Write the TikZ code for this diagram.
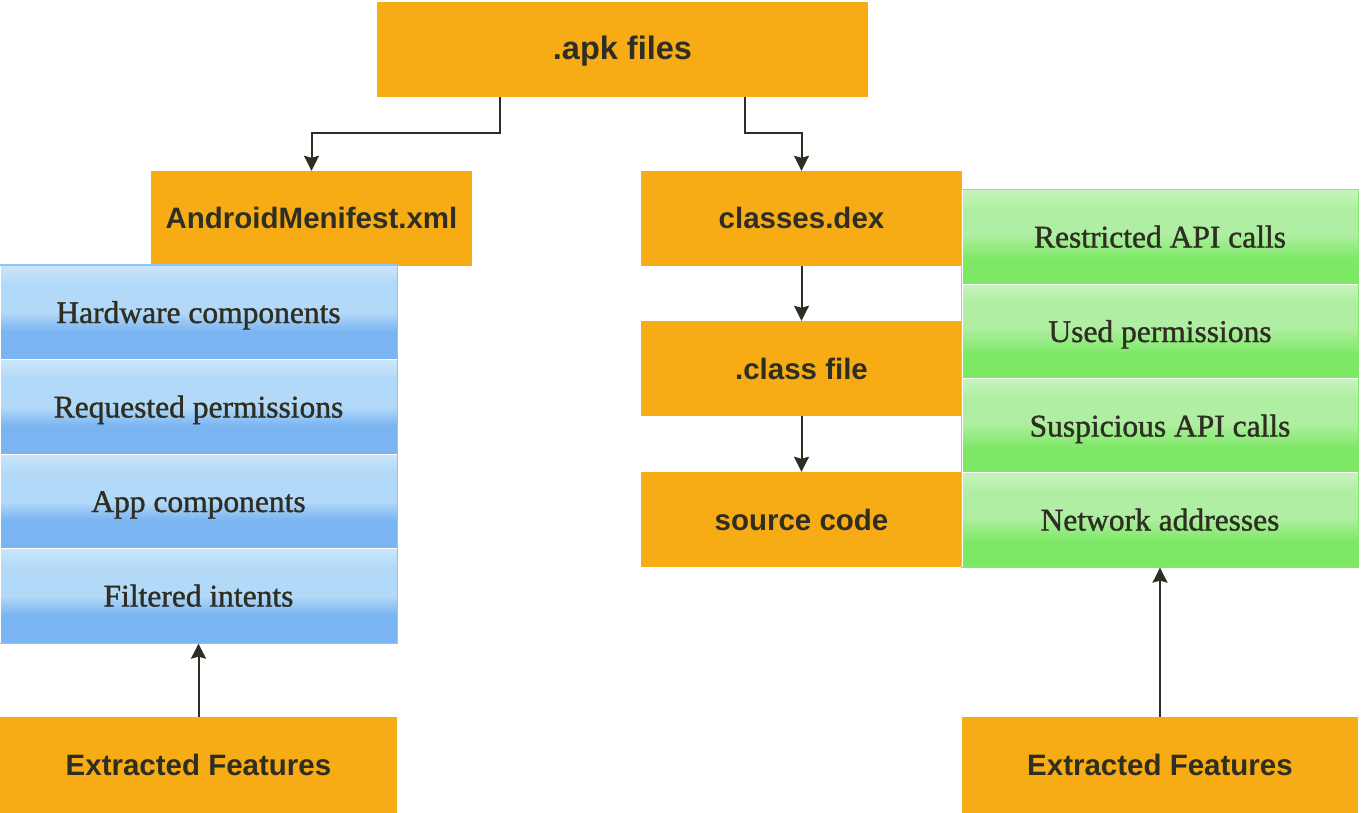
\documentclass[tikz,border=0pt]{standalone}
\usepackage{fontspec}
\setmainfont{Liberation Serif}
\newfontfamily\sansf{Liberation Sans}
\newfontfamily\serifsb[FakeBold=1.2]{Liberation Serif}
\usetikzlibrary{arrows.meta}
\definecolor{orng}{HTML}{F7AC15}
\definecolor{txt}{HTML}{2E2E22}
\definecolor{bB}{HTML}{7AB4F1}
\definecolor{bM}{HTML}{B2D9F8}
\definecolor{bT}{HTML}{CBE6FB}
\definecolor{bEdge}{HTML}{8CC4F5}
\definecolor{gB}{HTML}{7CE864}
\definecolor{gM}{HTML}{B0EFA3}
\definecolor{gT}{HTML}{C6F4BC}
\definecolor{gEdge}{HTML}{86EA70}
\pgfdeclareverticalshading{blueband}{100bp}{color(0bp)=(bB); color(25bp)=(bB); color(40bp)=(bB); color(50bp)=(bM); color(65bp)=(bM); color(75bp)=(bT); color(100bp)=(bT)}
\pgfdeclareverticalshading{greenband}{100bp}{color(0bp)=(gB); color(25bp)=(gB); color(38bp)=(gB); color(52bp)=(gM); color(65bp)=(gM); color(75bp)=(gT); color(100bp)=(gT)}
\tikzset{
  obox/.style={fill=orng, draw=none, minimum height=95pt, inner sep=0pt, text=txt,
    text height=24pt, text depth=3pt,
    font=\sansf\bfseries\fontsize{29.5}{34}\selectfont},
  bband/.style={shading=blueband, draw=white, line width=0.8pt, minimum width=397pt,
    minimum height=94.5pt, inner sep=0pt, text=txt, text height=23pt, text depth=2pt,
    font=\serifsb\fontsize{31.5}{36}\selectfont},
  gband/.style={shading=greenband, draw=white, line width=0.8pt, minimum width=396pt,
    minimum height=94.5pt, inner sep=0pt, text=txt, text height=23pt, text depth=2pt,
    font=\serifsb\fontsize{31.5}{36}\selectfont},
  arr/.style={draw=txt, line width=2pt, -{Stealth[width=15pt,length=15pt,inset=2pt]}}
}
\begin{document}
\begin{tikzpicture}[x=1pt,y=-1pt]
\useasboundingbox (0,0) rectangle (1363,813);
% orange boxes
\node[obox, minimum width=491pt, font=\sansf\bfseries\fontsize{32.5}{38}\selectfont] (apk) at (622.5,49.5) {.apk files};
\node[obox, minimum width=321pt] (man) at (311.5,218.5) {AndroidMenifest.xml};
\node[obox, minimum width=321pt] (dex) at (801.5,218.5) {classes.dex};
\node[obox, minimum width=321pt] (cls) at (801.5,368.5) {.class file};
\node[obox, minimum width=321pt] (src) at (801.5,519.5) {source code};
\node[obox, minimum width=397pt, minimum height=96pt] (extL) at (198.5,765) {Extracted Features};
\node[obox, minimum width=396pt, minimum height=96pt] (extR) at (1160,765) {Extracted Features};
% blue stack
\node[bband] (b1) at (198.5,312.5) {Hardware components};
\node[bband] (b2) at (198.5,407) {Requested permissions};
\node[bband] (b3) at (198.5,501.5) {App components};
\node[bband] (b4) at (198.5,596) {Filtered intents};
\draw[bEdge, line width=1.5pt] (b1.north west) rectangle (b4.south east);
% green stack
\node[gband] (g1) at (1160,237) {Restricted API calls};
\node[gband] (g2) at (1160,331.5) {Used permissions};
\node[gband] (g3) at (1160,426) {Suspicious API calls};
\node[gband] (g4) at (1160,520) {Network addresses};
\draw[gEdge, line width=1.5pt] (g1.north west) rectangle (g4.south east);
% connectors
\draw[arr] ([xshift=-122.5pt]apk.south) -- ++(0,36) -| (man.north);
\draw[arr] ([xshift=122.5pt]apk.south) -- ++(0,36) -| (dex.north);
\draw[arr] (dex.south) -- (cls.north);
\draw[arr] (cls.south) -- (src.north);
\draw[arr] (extL.north) -- (b4.south);
\draw[arr] (extR.north) -- (g4.south);
\end{tikzpicture}
\end{document}
